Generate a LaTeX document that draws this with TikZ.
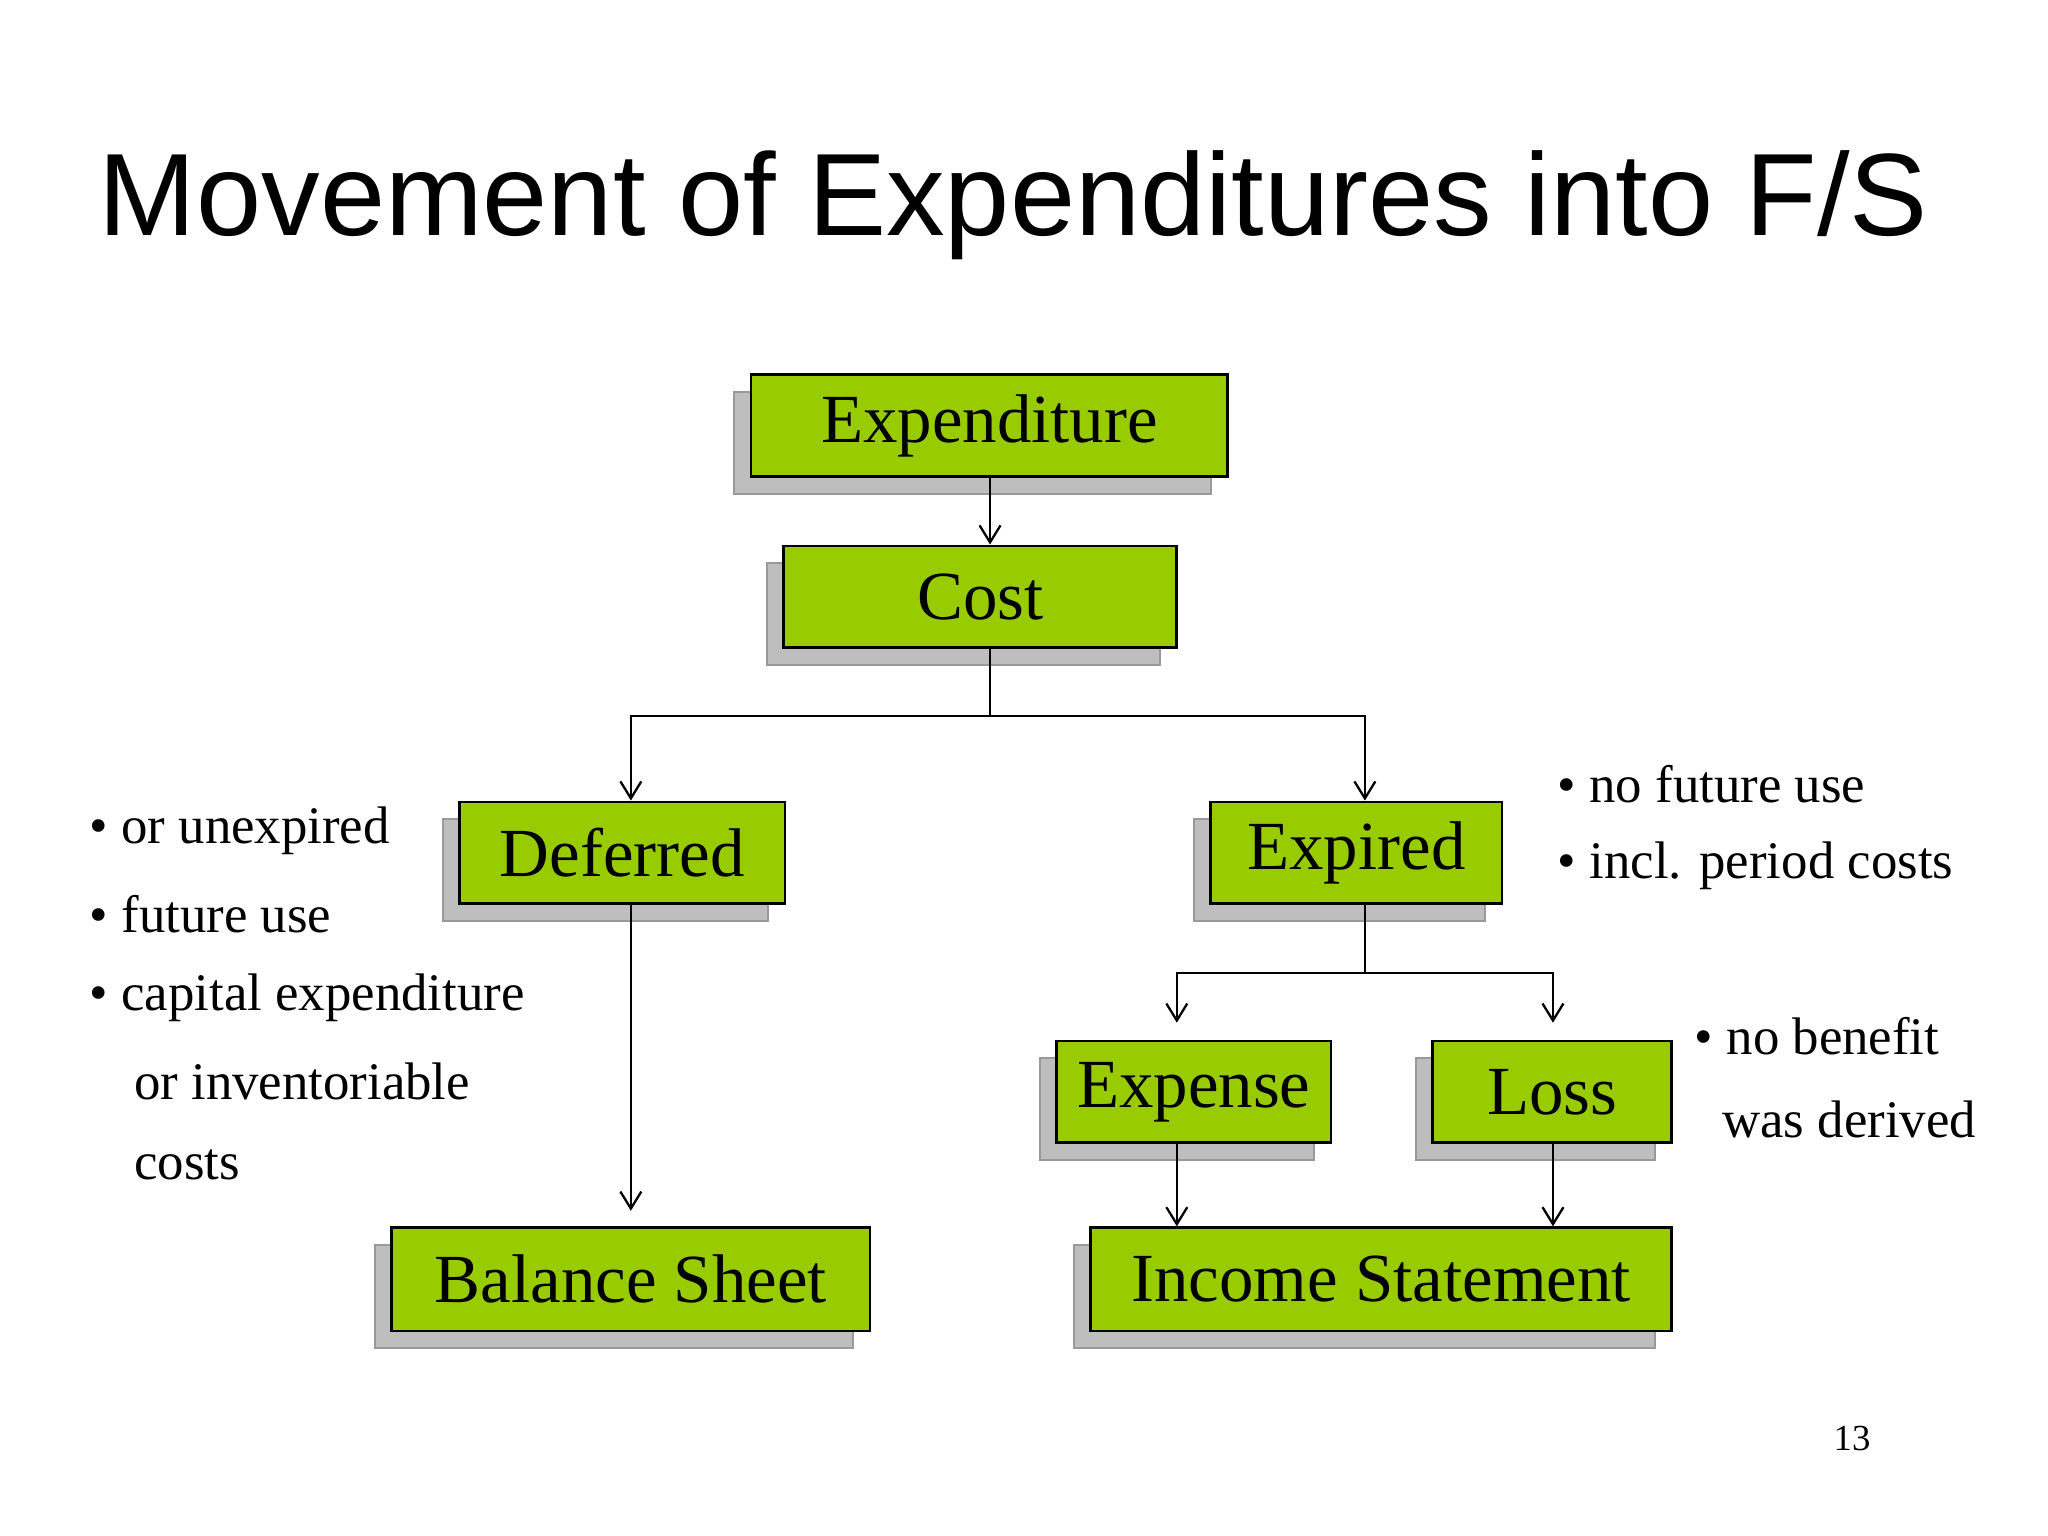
\documentclass[tikz,border=0pt]{standalone}
\usepackage{fontspec}
\setmainfont{Liberation Serif}
\newfontfamily\titlefont{Liberation Sans}
\usetikzlibrary{arrows.meta}
\definecolor{boxgreen}{HTML}{99CC00}
\definecolor{shadowgrey}{HTML}{BEBEBE}
\tikzset{
 box/.style={fill=boxgreen,draw=black,line width=0.6pt,inner sep=0pt,font=\fontsize{15}{18}\selectfont},
 conn/.style={draw=black,line width=0.5pt},
 arr/.style={conn,-{Straight Barb[length=1.3mm,width=1.6mm]}},
 btxt/.style={anchor=west,inner sep=0pt,font=\fontsize{11.5}{14}\selectfont}
}
\newcommand{\gbox}[6]{% name, x1, y1, x2, y2, text
 \fill[shadowgrey,draw=gray!80] ({#2-13},{#3+13}) rectangle ({#4-13},{#5+13});
 \node[box,minimum width={(#4-#2)*0.01cm},minimum height={(#5-#3)*0.01cm}] (#1) at ({(#2+#4)/2},{(#3+#5)/2}) {#6};
}
\begin{document}
\begin{tikzpicture}[x=0.01cm,y=-0.01cm]
\useasboundingbox[fill=white] (0,0) rectangle (1568,1176);
\node[font=\titlefont\fontsize{25.5}{30}\selectfont,inner sep=0pt] (title) at (776,157) {Movement of Expenditures into F/S};
\gbox{expd}{575}{287}{940}{365}{Expenditure}
\gbox{cost}{600}{418}{901}{496}{Cost}
\gbox{def}{352}{614}{601}{692}{Deferred}
\gbox{exp}{927}{614}{1150}{692}{Expired}
\gbox{expn}{809}{797}{1019}{875}{Expense}
\gbox{loss}{1097}{797}{1280}{875}{Loss}
\gbox{bs}{300}{940}{666}{1019}{Balance Sheet}
\gbox{is}{835}{940}{1280}{1019}{Income Statement}
\coordinate (c1) at (758,548);
\coordinate (c2) at (1045,745);
\draw[arr] (expd.south -| 758,0) -- (cost.north -| 758,0);
\draw[conn] (cost.south -| 758,0) -- (c1);
\draw[arr] (c1) -- (483,548) -- (def.north -| 483,0);
\draw[arr] (c1) -- (1045,548) -- (exp.north -| 1045,0);
\coordinate (bsin) at (483,927);
\draw[arr] (def.south -| 483,0) -- (bsin);
\draw[conn] (exp.south -| 1045,0) -- (c2);
\coordinate (ein) at (901,783);
\coordinate (lin) at (1189,783);
\draw[arr] (c2) -- (901,745) -- (ein);
\draw[arr] (c2) -- (1189,745) -- (lin);
\draw[arr] (expn.south -| 901,0) -- (is.north -| 901,0);
\draw[arr] (loss.south -| 1189,0) -- (is.north -| 1189,0);
\node[btxt] (l1) at (68,636) {\textbullet\ or unexpired};
\node[btxt] (l2) at (68,700) {\textbullet\ future use};
\node[btxt] (l3) at (68,764) {\textbullet\ capital expenditure};
\node[btxt] (l4) at (102,828) {or inventoriable};
\node[btxt] (l5) at (102,892) {costs};
\node[btxt] (r1) at (1192,600) {\textbullet\ no future use};
\node[btxt] (r2) at (1192,663) {\textbullet\ incl. period costs};
\node[btxt] (r3) at (1297,793) {\textbullet\ no benefit};
\node[btxt] (r4) at (1318,857) {was derived};
\node[anchor=center,inner sep=0pt,font=\fontsize{8}{10}\selectfont] (pg) at (1418,1101) {13};
\end{tikzpicture}
\end{document}
